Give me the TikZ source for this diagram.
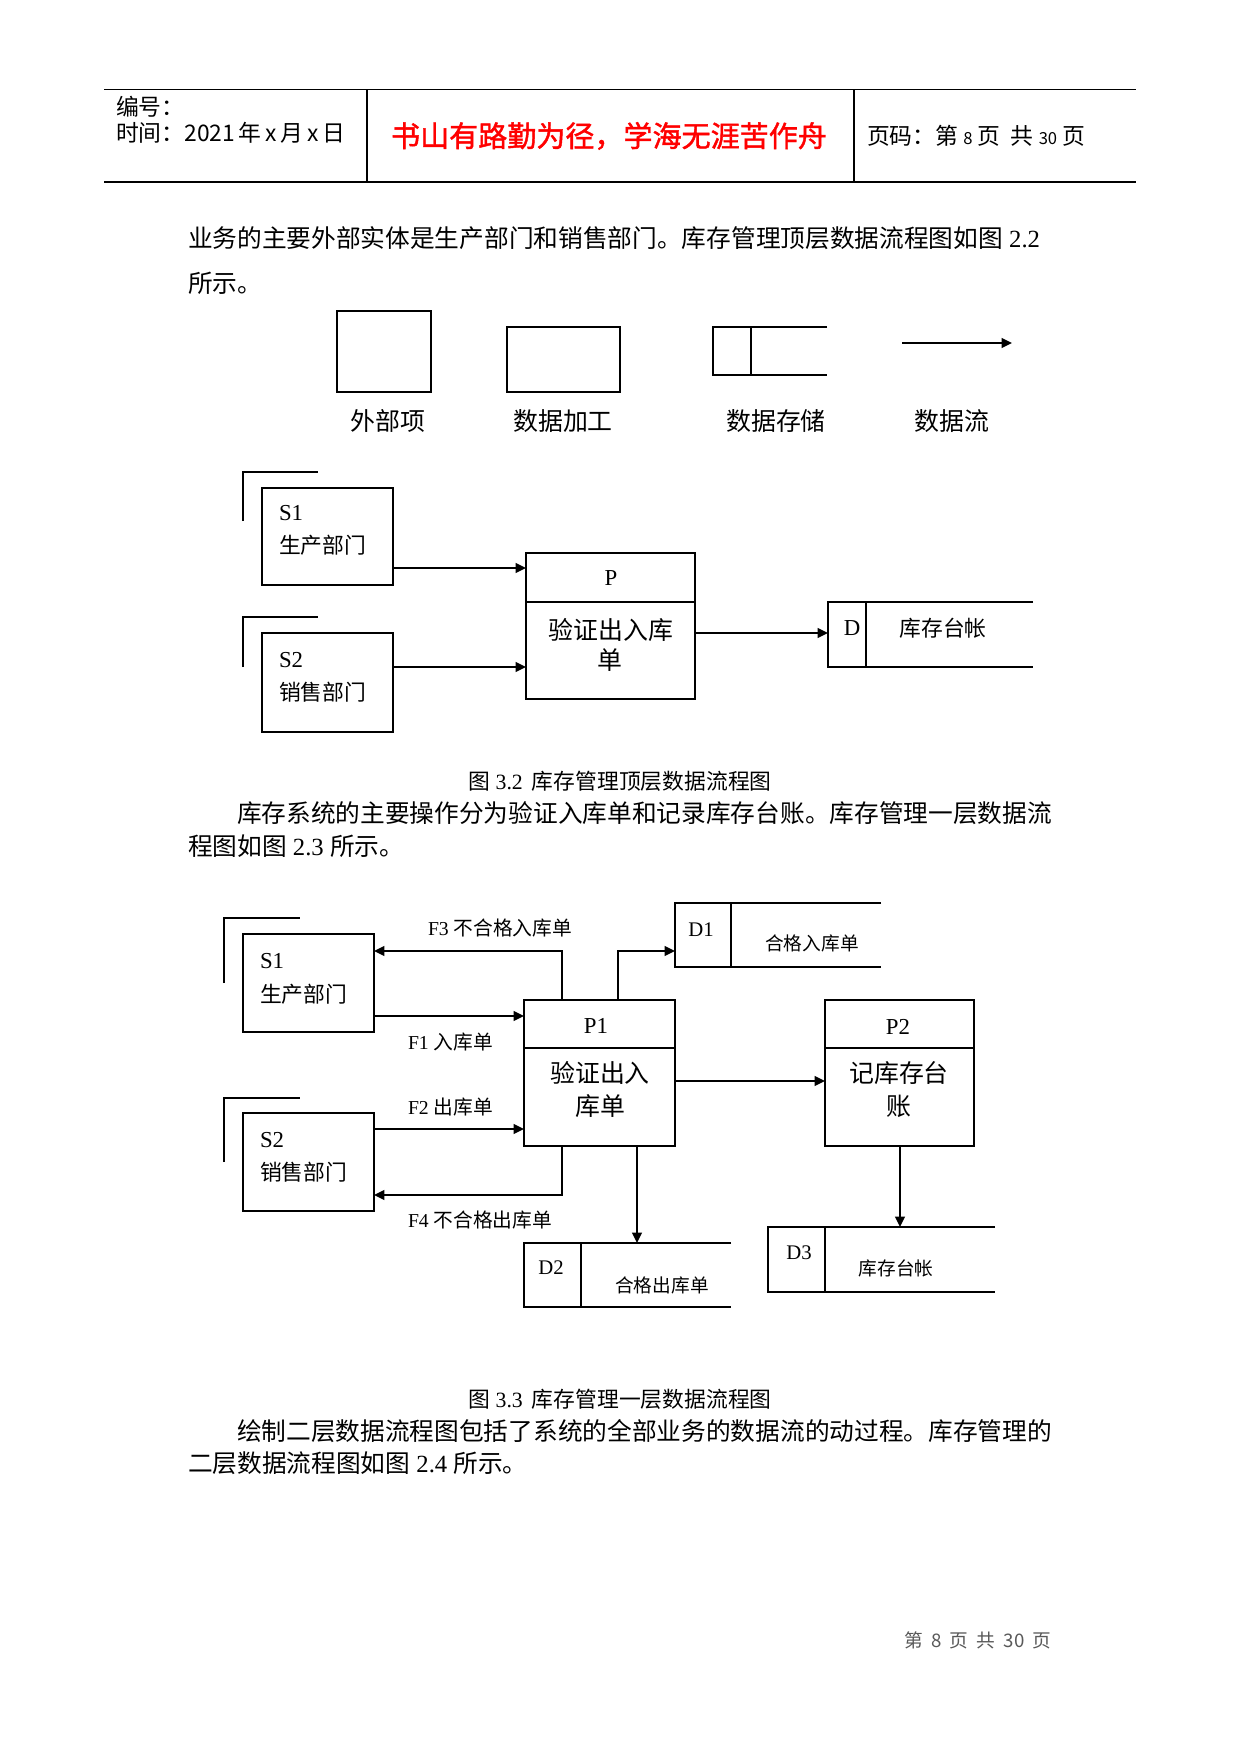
\documentclass[tikz,border=0pt]{standalone}
\usepackage{fontspec}
\setmainfont{Liberation Serif}
\newfontfamily\cjk{Noto Sans CJK SC}
\newfontfamily\cjkb[FakeBold=1.5]{Noto Sans CJK SC}
\usetikzlibrary{fit,arrows.meta,calc}
\newcommand\zh[1]{{\cjk #1}}
\newcommand\fs[1]{\fontsize{#1pt}{#1pt}\selectfont}
\begin{document}
\begin{tikzpicture}[x=0.48181pt,y=-0.48181pt,
 txt/.style={inner sep=0pt,outer sep=0pt},
 ln/.style={line width=0.7pt},
 thk/.style={line width=1.3pt},
 hrule/.style={line width=0.9pt},
 box/.style={draw,line width=0.7pt,inner sep=0pt,outer sep=0pt,fit={#1}},
 area/.style={inner sep=0pt,outer sep=0pt,fit={#1}},
 flow/.style={line width=1.15pt,-{Triangle[length=5pt,width=4.6pt]}},
]
\useasboundingbox (0,0) rectangle (1241,1754);
\fill[white] (0,0) rectangle (1241,1754);

% ---------- header ----------
\draw[hrule] (104,89.5) -- (1136,89.5);
\draw[hrule] (104,182) -- (1136,182);
\draw[line width=1pt] (367,89.5) -- (367,182);
\draw[line width=0.5pt] (854,89.5) -- (854,182);
\node[txt,anchor=west,font=\cjk\fs{11}] (h1) at (116,107) {编号：};
\node[txt,anchor=west,font=\cjk\fs{11}] (h2) at (116,133) {时间：2021\,年\,x\,月\,x\,日};
\node[txt,font=\cjkb\fs{14},text=red] (title) at (609,136) {书山有路勤为径，学海无涯苦作舟};
\node[txt,anchor=west,font=\cjk\fs{11}] (h3) at (867,136) {页码：第 {\fs{8}8} 页\ \ 共 {\fs{8}30} 页};

% ---------- paragraph 1 ----------
\node[txt,anchor=west,font=\fs{11.9}] (p1a) at (188,238) {\zh{业务的主要外部实体是生产部门和销售部门。库存管理顶层数据流程图如图} 2.2};
\node[txt,anchor=west,font=\cjk\fs{11.9}] (p1b) at (188,283) {所示。};

% ---------- legend ----------
\draw[ln] (337,311) rectangle (431,392);
\draw[thk] (337,392) -- (431,392);
\draw[ln] (507,327) rectangle (620,392);
\draw[thk] (620,327) -- (507,327) -- (507,392) -- (620,392);
\draw[ln] (827,327) -- (713,327) -- (713,375) -- (827,375);
\draw[thk] (713,327) -- (827,327);
\draw[ln] (751,327) -- (751,375);
\coordinate (la) at (902,343);
\coordinate (lb) at (1012,343);
\draw[flow] (la) -- (lb);
\node[txt,font=\cjk\fs{12}] (l1) at (388,421) {外部项};
\node[txt,font=\cjk\fs{12}] (l2) at (563,421) {数据加工};
\node[txt,font=\cjk\fs{12}] (l3) at (776,421) {数据存储};
\node[txt,font=\cjk\fs{12}] (l4) at (952,421) {数据流};

% ---------- figure 3.2 ----------
\draw[ln] (243,521) -- (243,472) -- (318,472);
\node[box={(262,488) (393,585)}] (s1) {};
\draw[thk] (s1.north west) -- (s1.north east);
\node[txt,anchor=west,font=\fs{11}] (s1a) at (279,513) {S1};
\node[txt,anchor=west,font=\cjk\fs{10.5}] (s1b) at (279,545) {生产部门};

\draw[ln] (243,667) -- (243,617) -- (318,617);
\node[box={(262,633) (393,732)}] (s2) {};
\draw[thk] (s2.north west) -- (s2.north east);
\node[txt,anchor=west,font=\fs{11}] (s2a) at (279,660) {S2};
\node[txt,anchor=west,font=\cjk\fs{10.5}] (s2b) at (279,692) {销售部门};

\node[box={(526,553) (695,699)}] (p) {};
\draw[thk] (p.north west) -- (p.north east);
\draw[thk] (p.west |- 0,602) -- (p.east |- 0,602);
\node[txt,font=\fs{11}] (pa) at (611,578) {P};
\node[txt,font=\cjk\fs{12}] (pb) at (611,630) {验证出入库};
\node[txt,font=\cjk\fs{12}] (pc) at (610,660) {单};

\node[area={(828,602) (1033,667)}] (d) {};
\draw[ln] (d.north east) -- (d.north west) -- (d.south west) -- (d.south east);
\draw[thk] (d.north west) -- (d.north east);
\draw[ln] (d.north west -| 866,0) -- (d.south west -| 866,0);
\node[txt,font=\fs{11}] (da) at (852,628) {D};
\node[txt,font=\cjk\fs{10.5}] (db) at (943,628) {库存台帐};

\draw[flow] (s1.east |- 0,568) -- (p.west |- 0,568);
\draw[flow] (s2.east |- 0,667) -- (p.west |- 0,667);
\draw[flow] (p.east |- 0,633) -- (d.west |- 0,633);

\node[txt,font=\fs{10.5}] (cap1) at (620,781) {\zh{图} 3.2\, \zh{库存管理顶层数据流程图}};

% ---------- paragraph 2 ----------
\node[txt,anchor=west,font=\cjk\fs{11.9}] (p2a) at (237,813) {库存系统的主要操作分为验证入库单和记录库存台账。库存管理一层数据流};
\node[txt,anchor=west,font=\fs{11.9}] (p2b) at (188,846) {\zh{程图如图} 2.3 \zh{所示。}};

% ---------- figure 3.3 ----------
\draw[ln] (224,983) -- (224,918) -- (300,918);
\node[box={(243,934) (374,1032)}] (t1) {};
\draw[thk] (t1.north west) -- (t1.north east);
\node[txt,anchor=west,font=\fs{11}] (t1a) at (260,961) {S1};
\node[txt,anchor=west,font=\cjk\fs{10.5}] (t1b) at (260,994) {生产部门};

\draw[ln] (224,1162) -- (224,1098) -- (300,1098);
\node[box={(243,1113) (374,1211)}] (t2) {};
\draw[thk] (t2.south west) -- (t2.south east);
\node[txt,anchor=west,font=\fs{11}] (t2a) at (260,1140) {S2};
\node[txt,anchor=west,font=\cjk\fs{10.5}] (t2b) at (260,1172) {销售部门};

\node[box={(524,1000) (675,1146)}] (q1) {};
\draw[thk] (q1.north west) -- (q1.north east);
\draw[ln] (q1.west |- 0,1048) -- (q1.east |- 0,1048);
\node[txt,font=\fs{11}] (q1a) at (596,1026) {P1};
\node[txt,font=\cjk\fs{12}] (q1b) at (600,1073) {验证出入};
\node[txt,font=\cjk\fs{12}] (q1c) at (600,1106) {库单};

\node[box={(825,1000) (974,1146)}] (q2) {};
\draw[thk] (q2.north west) -- (q2.north east);
\draw[ln] (q2.west |- 0,1048) -- (q2.east |- 0,1048);
\node[txt,font=\fs{11}] (q2a) at (898,1027) {P2};
\node[txt,font=\cjk\fs{12}] (q2b) at (899,1073) {记库存台};
\node[txt,font=\cjk\fs{12}] (q2c) at (899,1106) {账};

\node[area={(675,903) (881,967)}] (e1) {};
\draw[ln] (e1.north east) -- (e1.north west) -- (e1.south west) -- (e1.south east);
\draw[ln] (e1.north west -| 731,0) -- (e1.south west -| 731,0);
\node[txt,font=\fs{10}] (e1a) at (701,930) {D1};
\node[txt,font=\cjk\fs{9}] (e1b) at (812,943) {合格入库单};

\node[area={(524,1243) (731,1307)}] (e2) {};
\draw[ln] (e2.north east) -- (e2.north west) -- (e2.south west) -- (e2.south east);
\draw[thk] (e2.south west) -- (e2.south east);
\draw[ln] (e2.north west -| 581,0) -- (e2.south west -| 581,0);
\node[txt,font=\fs{10}] (e2a) at (551,1268) {D2};
\node[txt,font=\cjk\fs{9}] (e2b) at (662,1285) {合格出库单};

\node[area={(768,1227) (995,1292)}] (e3) {};
\draw[ln] (e3.north east) -- (e3.north west) -- (e3.south west) -- (e3.south east);
\draw[ln] (e3.north west -| 825,0) -- (e3.south west -| 825,0);
\node[txt,font=\fs{10}] (e3a) at (799,1253) {D3};
\node[txt,font=\cjk\fs{9}] (e3b) at (896,1268) {库存台帐};

\draw[flow] (q1.north -| 562,0) |- (t1.east |- 0,951);
\draw[flow] (q1.north -| 618,0) |- (e1.west |- 0,951);
\draw[flow] (t1.east |- 0,1016) -- (q1.west |- 0,1016);
\draw[flow] (t2.east |- 0,1129) -- (q1.west |- 0,1129);
\draw[flow] (q1.south -| 562,0) |- (t2.east |- 0,1195);
\draw[flow] (q1.east |- 0,1081) -- (q2.west |- 0,1081);
\draw[flow] (q1.south -| 637,0) -- (e2.north -| 637,0);
\draw[flow] (q2.south -| 900,0) -- (e3.north -| 900,0);

\node[txt,anchor=west,font=\fs{9.5}] (f3) at (428,928) {F3 \zh{不合格入库单}};
\node[txt,anchor=west,font=\fs{9.5}] (f1) at (408,1042) {F1 \zh{入库单}};
\node[txt,anchor=west,font=\fs{9.5}] (f2) at (408,1107) {F2 \zh{出库单}};
\node[txt,anchor=west,font=\fs{9.5}] (f4) at (408,1220) {F4 \zh{不合格出库单}};

\node[txt,font=\fs{10.5}] (cap2) at (620,1399) {\zh{图} 3.3\, \zh{库存管理一层数据流程图}};

% ---------- paragraph 3 ----------
\node[txt,anchor=west,font=\cjk\fs{11.9}] (p3a) at (237,1431) {绘制二层数据流程图包括了系统的全部业务的数据流的动过程。库存管理的};
\node[txt,anchor=west,font=\fs{11.9}] (p3b) at (188,1463) {\zh{二层数据流程图如图} 2.4 \zh{所示。}};

% ---------- footer ----------
\node[txt,anchor=west,font=\cjk\fs{9},text=black!65] (foot) at (904,1640) {第\ \ 8\ \ 页\ \ 共\ \ 30\ \ 页};
\end{tikzpicture}
\end{document}
